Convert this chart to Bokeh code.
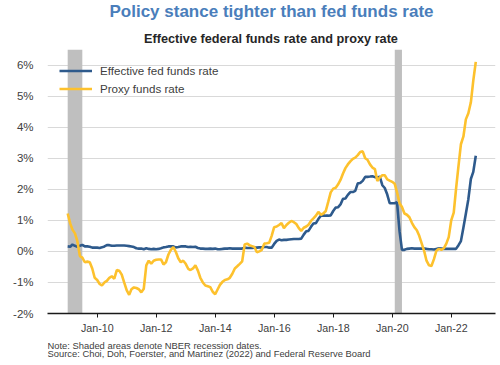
import pandas as pd
from datetime import datetime
from bokeh.plotting import figure
from bokeh.layouts import column
from bokeh.models import (Range1d, FixedTicker, PrintfTickFormatter, DatetimeTickFormatter,
                          Legend, LegendItem, Label, ColumnDataSource)
from bokeh.embed import file_html
from bokeh.resources import INLINE

# ---------------- data ----------------
# monthly observations, Dec 2008 ... Oct 2022 (plotted at month end)
first_month = "2008-12"
effr = [0.16,
        0.15, 0.22, 0.18, 0.15, 0.18, 0.21, 0.16, 0.16, 0.15, 0.12, 0.12, 0.12,
        0.11, 0.13, 0.16, 0.20, 0.20, 0.18, 0.18, 0.19, 0.19, 0.19, 0.19, 0.18,
        0.17, 0.16, 0.14, 0.10, 0.09, 0.09, 0.07, 0.10, 0.08, 0.07, 0.08, 0.07,
        0.08, 0.10, 0.13, 0.14, 0.16, 0.16, 0.16, 0.13, 0.14, 0.16, 0.16, 0.16,
        0.14, 0.15, 0.14, 0.15, 0.11, 0.09, 0.09, 0.08, 0.08, 0.09, 0.08, 0.09,
        0.07, 0.07, 0.08, 0.09, 0.09, 0.10, 0.09, 0.09, 0.09, 0.09, 0.09, 0.12,
        0.11, 0.11, 0.11, 0.12, 0.12, 0.13, 0.13, 0.14, 0.14, 0.12, 0.12, 0.24,
        0.34, 0.38, 0.36, 0.37, 0.37, 0.38, 0.39, 0.40, 0.40, 0.40, 0.41, 0.54,
        0.65, 0.66, 0.79, 0.90, 0.91, 1.04, 1.15, 1.16, 1.15, 1.15, 1.16, 1.30,
        1.41, 1.42, 1.51, 1.69, 1.70, 1.82, 1.91, 1.91, 1.95, 2.19, 2.20, 2.27,
        2.40, 2.40, 2.41, 2.42, 2.39, 2.38, 2.40, 2.13, 2.04, 1.83, 1.55, 1.55,
        1.55, 1.58, 0.65, 0.05, 0.05, 0.08, 0.09, 0.10, 0.09, 0.09, 0.09, 0.09,
        0.09, 0.08, 0.07, 0.07, 0.06, 0.08, 0.10, 0.09, 0.08, 0.08, 0.08, 0.08,
        0.08, 0.08, 0.20, 0.33, 0.77, 1.21, 1.68, 2.33, 2.56, 3.08]

proxy = [1.22,
         0.90, 0.70, 0.58, 0.32, -0.15, -0.20, -0.35, -0.33, -0.35, -0.55, -0.85, -0.92,
         -1.05, -1.10, -1.00, -0.95, -0.85, -0.80, -0.88, -0.60, -0.62, -0.75, -1.00, -1.25,
         -1.40, -1.22, -1.16, -1.18, -1.22, -1.32, -1.20, -0.45, -0.30, -0.40, -0.30, -0.27,
         -0.26, -0.26, -0.42, -0.35, -0.10, 0.05, 0.14, -0.02, -0.22, -0.35, -0.30, -0.40,
         -0.56, -0.60, -0.55, -0.45, -0.62, -0.85, -1.00, -1.10, -1.12, -1.15, -1.30, -1.38,
         -1.22, -1.08, -0.98, -0.92, -0.90, -0.85, -0.72, -0.55, -0.48, -0.40, -0.32, 0.22,
         0.25, 0.20, 0.17, 0.14, -0.03, 0.00, 0.05, 0.25, 0.26, 0.28, 0.50, 0.78,
         0.80, 0.85, 0.91, 0.75, 0.85, 0.92, 0.98, 0.94, 0.88, 0.75, 0.66, 0.76,
         0.80, 0.86, 0.98, 1.06, 1.15, 1.27, 1.18, 1.22, 1.30, 1.60, 1.90, 2.02,
         2.05, 2.15, 2.30, 2.50, 2.68, 2.80, 2.90, 2.98, 3.02, 3.10, 3.20, 3.22,
         3.00, 2.95, 2.80, 2.70, 2.65, 2.27, 2.38, 2.45, 2.45, 2.32, 2.28, 2.24,
         2.18, 1.90, 1.55, 1.43, 1.22, 1.18, 1.10, 0.92, 0.78, 0.68, 0.50, 0.25,
         0.00, -0.30, -0.45, -0.47, -0.25, 0.02, 0.08, 0.05, 0.10, 0.25, 0.46, 1.00,
         1.25, 2.00, 2.75, 3.45, 3.70, 4.25, 4.45, 4.80, 5.50, 6.10]

recession_start = ["2008-12-31", "2020-02-01"]
recession_end = ["2009-06-30", "2020-04-30"]

x_tick_years = [2010, 2012, 2014, 2016, 2018, 2020, 2022]
y_ticks = [-2, -1, 0, 1, 2, 3, 4, 5, 6]
y_min, y_max = -2, 6.5

series_names = ["Effective fed funds rate", "Proxy funds rate"]
title_text = "Policy stance tighter than fed funds rate"
subtitle_text = "Effective federal funds rate and proxy rate"
note_lines = ["Note: Shaded areas denote NBER recession dates.",
              "Source: Choi, Doh, Foerster, and Martinez (2022) and Federal Reserve Board"]

# ---------------- build ----------------
dates = pd.period_range(first_month, periods=len(effr), freq="M").to_timestamp(how="end").normalize()
src = ColumnDataSource(dict(date=dates, effr=effr, proxy=proxy))
rec = ColumnDataSource(dict(left=pd.to_datetime(recession_start), right=pd.to_datetime(recession_end)))

FONT = "Liberation Sans"
BLUE = "#2E5A8C"
YELLOW = "#FDC12D"
W = 500


def text_panel(height):
    f = figure(width=W, height=height, output_backend="svg", toolbar_location=None,
               x_axis_location=None, y_axis_location=None, min_border=0,
               x_range=Range1d(0, W), y_range=Range1d(0, height))
    f.outline_line_color = None
    f.grid.grid_line_color = None
    return f


# header: title + subtitle (screen units relative to the aligned frame: left edge at x=47)
head = text_panel(48)
head.add_layout(Label(x=224, y=37.2, x_units="screen", y_units="screen", text=title_text,
                      text_font=FONT, text_font_style="bold", text_font_size="17px",
                      text_color="#4A7EBB", text_align="center", text_baseline="middle"))
head.add_layout(Label(x=223.5, y=9.7, x_units="screen", y_units="screen", text=subtitle_text,
                      text_font=FONT, text_font_style="bold", text_font_size="12.7px",
                      text_color="#262626", text_align="center", text_baseline="middle"))

# main chart
p = figure(width=W, height=288, x_axis_type="datetime",
           output_backend="svg", toolbar_location=None,
           x_range=Range1d(datetime(2008, 4, 25), datetime(2023, 7, 2)),
           y_range=Range1d(y_min, y_max),
           min_border_left=47, min_border_right=5, min_border_top=1, min_border_bottom=23)
p.outline_line_color = None

p.quad(left="left", right="right", bottom=y_min, top=y_max, source=rec,
       fill_color="#BFBFBF", line_color=None)
r1 = p.line("date", "effr", source=src, line_color=BLUE, line_width=2.6)
r2 = p.line("date", "proxy", source=src, line_color=YELLOW, line_width=2.6)

p.xaxis.ticker = FixedTicker(ticks=[pd.Timestamp(f"{y}-01-01").value / 1e6 for y in x_tick_years])
p.xaxis.formatter = DatetimeTickFormatter(years="%b-%y", months="%b-%y", days="%b-%y",
                                          hours="%b-%y", minutes="%b-%y", seconds="%b-%y",
                                          milliseconds="%b-%y", microseconds="%b-%y",
                                          hourmin="%b-%y", minsec="%b-%y")
p.xaxis.axis_line_color = "#1a1a1a"
p.xaxis.axis_line_width = 1.5
p.xaxis.major_tick_line_color = "#1a1a1a"
p.xaxis.major_tick_in = 0
p.xaxis.major_tick_out = 4
p.xaxis.minor_tick_line_color = None
p.xaxis.major_label_text_font = FONT
p.xaxis.major_label_text_font_size = "10.7px"
p.xaxis.major_label_text_color = "#404040"
p.xaxis.major_label_standoff = 4

p.yaxis.ticker = FixedTicker(ticks=y_ticks)
p.yaxis.formatter = PrintfTickFormatter(format="%d%%")
p.yaxis.axis_line_color = None
p.yaxis.major_tick_line_color = None
p.yaxis.minor_tick_line_color = None
p.yaxis.major_tick_out = 0
p.yaxis.major_tick_in = 0
p.yaxis.major_label_standoff = 14
p.yaxis.major_label_text_font = FONT
p.yaxis.major_label_text_font_size = "11.5px"
p.yaxis.major_label_text_color = "#404040"

p.xgrid.grid_line_color = None
p.ygrid.grid_line_color = "#D9D9D9"
p.ygrid.grid_line_width = 1

legend = Legend(items=[LegendItem(label=series_names[0], renderers=[r1]),
                       LegendItem(label=series_names[1], renderers=[r2])],
                location=(12, 217), padding=0, margin=0, spacing=3,
                glyph_width=33, glyph_height=15, label_height=15, label_standoff=8,
                label_text_font=FONT, label_text_font_size="11.6px", label_text_color="#404040",
                border_line_color=None, background_fill_alpha=0)
p.add_layout(legend)

# footer: notes
foot = text_panel(29)
for i, line in enumerate(note_lines):
    foot.add_layout(Label(x=0, y=20.3 - i * 8.7, x_units="screen", y_units="screen",
                          text=line, text_font=FONT, text_font_size="9.4px",
                          text_color="#404040", text_align="left", text_baseline="middle"))

layout = column(head, p, foot, spacing=0)
open("out.html", "w").write(file_html(layout, INLINE))
